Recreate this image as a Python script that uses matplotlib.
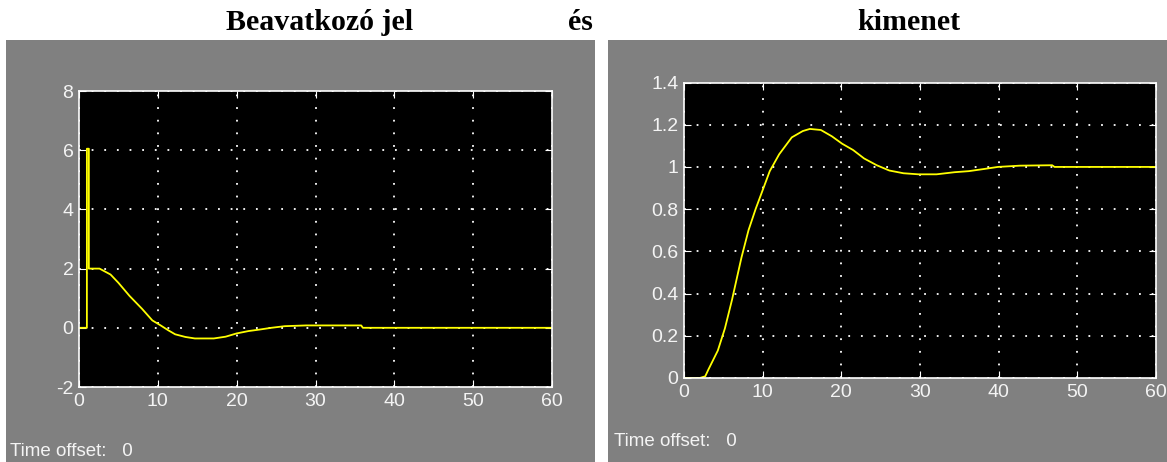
import matplotlib
matplotlib.use("Agg")
import matplotlib.pyplot as plt
from matplotlib.patches import Rectangle

plt.rcParams["axes.unicode_minus"] = False

# Control signal (Beavatkozó jel)
t_u = [0, 1.0, 1.0, 1.25, 1.25, 2.6, 4.0, 5.0, 6.4, 8.0, 9.3, 10.3, 11.3, 12.2, 13.5,
       14.7, 17.1, 18.6, 20.0, 21.5, 22.9, 24.4, 26.1, 28.8, 35.8, 36.0, 60]
u = [0, 0, 6.05, 6.05, 2.0, 2.0, 1.8, 1.52, 1.08, 0.64, 0.25, 0.09, -0.08, -0.22, -0.31,
     -0.36, -0.36, -0.30, -0.19, -0.11, -0.06, 0.0, 0.055, 0.08, 0.08, 0.0, 0.0]

# Output (kimenet)
t_y = [0, 2.0, 2.7, 3.1, 4.3, 5.2, 6.1, 7.3, 8.2, 9.1, 10.0, 10.9, 12.1, 13.7, 15.1,
       16.0, 17.4, 18.8, 20.1, 21.5, 22.9, 24.5, 26.1, 27.9, 29.8, 32.1, 34.4, 36.2,
       38.1, 39.9, 42.7, 46.8, 47.1, 60]
y = [0, 0, 0.008, 0.04, 0.13, 0.235, 0.37, 0.57, 0.70, 0.80, 0.89, 0.98, 1.06, 1.14, 1.17,
     1.18, 1.175, 1.145, 1.11, 1.08, 1.04, 1.008, 0.983, 0.97, 0.965, 0.965, 0.975, 0.98,
     0.99, 1.0, 1.006, 1.008, 1.0, 1.0]

x_ticks = [0, 10, 20, 30, 40, 50, 60]
u_ticks = [-2, 0, 2, 4, 6, 8]
y_ticks = [0, 0.2, 0.4, 0.6, 0.8, 1, 1.2, 1.4]
y_tick_labels = ["0", "0.2", "0.4", "0.6", "0.8", "1", "1.2", "1.4"]

W, H = 1167, 462
fig = plt.figure(figsize=(W / 100, H / 100), dpi=100)
fig.patch.set_facecolor("white")

GRAY = "#808080"
# gray scope panels
fig.patches.append(Rectangle((6 / W, 0), (595 - 6) / W, 1 - 40 / H,
                             transform=fig.transFigure, facecolor=GRAY, edgecolor="none", zorder=-5))
fig.patches.append(Rectangle((608 / W, 0), (W - 608) / W, 1 - 40 / H,
                             transform=fig.transFigure, facecolor=GRAY, edgecolor="none", zorder=-5))

sans = ["Liberation Sans", "DejaVu Sans"]
TXT = "#f4f4f4"


def style(ax):
    ax.set_zorder(2)
    ax.set_facecolor("black")
    for s in ax.spines.values():
        s.set_color("white")
        s.set_linewidth(1.2)
    ax.grid(True, color="white", linestyle=(0, (1, 6)), linewidth=1.3)
    ax.tick_params(direction="in", length=5, color="white", labelcolor=TXT,
                   top=True, right=True, pad=4)
    for lab in ax.get_xticklabels() + ax.get_yticklabels():
        lab.set_fontfamily(sans)
        lab.set_fontsize(14)


ax1 = fig.add_axes([79 / W, 1 - 387 / H, (552 - 79) / W, (387 - 91) / H])
ax1.plot(t_u, u, color="#ffff00", linewidth=1.3)
ax1.set_xlim(0, 60)
ax1.set_ylim(-2, 8)
ax1.set_xticks(x_ticks)
ax1.set_yticks(u_ticks)
style(ax1)

ax2 = fig.add_axes([684 / W, 1 - 378 / H, (1156 - 684) / W, (378 - 82.5) / H])
ax2.plot(t_y, y, color="#ffff00", linewidth=1.3)
ax2.set_xlim(0, 60)
ax2.set_ylim(0, 1.4)
ax2.set_xticks(x_ticks)
ax2.set_yticks(y_ticks)
ax2.set_yticklabels(y_tick_labels)
style(ax2)

fig.text(10 / W, 1 - 451 / H, "Time offset:   0", color=TXT, fontsize=13.5,
         family=sans, va="center", ha="left")
fig.text(614 / W, 1 - 441 / H, "Time offset:   0", color=TXT, fontsize=13.5,
         family=sans, va="center", ha="left")

title_font = ["Liberation Serif", "DejaVu Serif"]
for xc, s in [(320, "Beavatkozó jel"), (580, "és"), (909, "kimenet")]:
    fig.text(xc / W, 1 - 23 / H, s, fontsize=21.5, fontweight="bold", family=title_font,
             ha="center", va="center", color="black")

fig.savefig("out.png", dpi=100, facecolor=fig.get_facecolor())
